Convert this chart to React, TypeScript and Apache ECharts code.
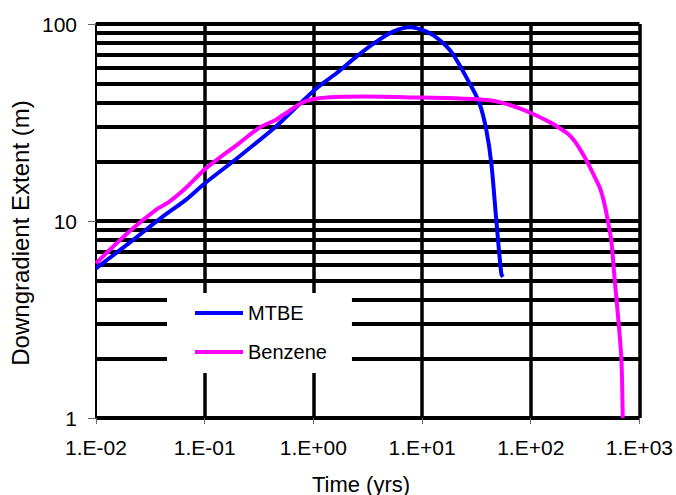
import React, { useEffect, useRef } from "react";
import * as echarts from "echarts";

const mtbeData: [number, number][] = [
  [0.01, 5.75], [0.02, 7.7], [0.04, 10.4], [0.067, 12.8], [0.1, 15.5],
  [0.207, 21.2], [0.45, 30.1], [0.65, 36.5], [1.07, 47.2], [1.63, 56.2],
  [2.49, 68.3], [3.8, 81.3], [5.4, 91.4], [7.7, 96.2], [11, 91.4],
  [14.5, 83], [19, 71], [27.4, 50], [33.8, 39.5], [39, 29],
  [43.4, 19.6], [48.2, 10.1], [53.6, 5.4], [55.4, 5.2],
];

const benzeneData: [number, number][] = [
  [0.01, 6.1], [0.02, 8.8], [0.0356, 11.4], [0.047, 12.5], [0.067, 14.7],
  [0.1026, 18.5], [0.207, 24.8], [0.32, 29.8], [0.45, 32.6], [0.53, 34.6],
  [0.83, 40.4], [1.42, 42.5], [3, 42.8], [10, 42.3], [20, 42.0],
  [39, 41.1], [55, 39.8], [79, 37.3], [110, 34.5], [157, 31.3],
  [184, 29.6], [218, 27.8], [253, 25.5], [293, 22.5], [340, 19.4],
  [386, 16.8], [433, 14.7], [467, 12.8], [498, 10.9], [550, 8.0],
  [589, 5.2], [645, 3.0], [683, 1.97], [702, 1.0],
];

const seriesNames = ["MTBE", "Benzene"];
const xTickLabels = ["1.E-02", "1.E-01", "1.E+00", "1.E+01", "1.E+02", "1.E+03"];
const yTickLabels = ["1", "10", "100"];
const minorGridValues = [2, 3, 4, 5, 6, 7, 8, 9, 20, 30, 40, 50, 60, 70, 80, 90];
const xTitle = "Time (yrs)";
const yTitle = "Downgradient Extent (m)";

const FONT = "'Liberation Sans', Arial, sans-serif";

export default function App() {
  const ref = useRef<HTMLDivElement>(null);
  useEffect(() => {
    if (!ref.current) return;
    const chart = echarts.init(ref.current, undefined, { renderer: "svg" });
    chart.setOption({
      animation: false,
      backgroundColor: "#ffffff",
      grid: { left: 96, right: 36, top: 24, bottom: 77 },
      xAxis: {
        type: "log",
        logBase: 10,
        min: 0.01,
        max: 1000,
        axisLine: { show: false },
        axisTick: { show: true, length: 6, lineStyle: { color: "#666", width: 1 } },
        axisLabel: {
          margin: 19,
          fontSize: 21,
          color: "#000",
          fontFamily: FONT,
          formatter: (v: number) => xTickLabels[Math.round(Math.log10(v)) + 2] ?? "",
        },
        splitLine: {
          show: true,
          showMinLine: false,
          lineStyle: { color: "#000", width: 3.5 },
        },
      },
      yAxis: {
        type: "log",
        logBase: 10,
        min: 1,
        max: 100,
        axisLine: { show: true, lineStyle: { color: "#000", width: 2 } },
        axisTick: { show: true, length: 8, lineStyle: { color: "#666", width: 1 } },
        axisLabel: {
          margin: 19,
          fontSize: 21,
          color: "#000",
          fontFamily: FONT,
          formatter: (v: number) => yTickLabels[Math.round(Math.log10(v))] ?? "",
        },
        splitLine: { show: true, lineStyle: { color: "#000", width: 4 } },
      },
      legend: {
        data: seriesNames,
        orient: "vertical",
        left: 167,
        top: 293,
        z: 10,
        backgroundColor: "#ffffff",
        padding: [10, 25, 11, 28],
        itemWidth: 48,
        itemHeight: 4,
        itemGap: 19,
        icon: "rect",
        textStyle: { fontSize: 20, color: "#000", fontFamily: FONT },
      },
      graphic: [
        {
          type: "text",
          x: 361,
          y: 484,
          style: {
            text: xTitle,
            fontSize: 22,
            fontFamily: FONT,
            fill: "#000",
            align: "center",
            verticalAlign: "middle",
          },
        },
        {
          type: "text",
          x: 20,
          y: 233,
          rotation: Math.PI / 2,
          style: {
            text: yTitle,
            fontSize: 24,
            fontFamily: FONT,
            fill: "#000",
            align: "center",
            verticalAlign: "middle",
          },
        },
      ],
      series: [
        {
          name: "minor-grid",
          type: "line",
          data: [],
          z: 1,
          silent: true,
          markLine: {
            z: 1,
            silent: true,
            symbol: ["none", "none"],
            label: { show: false },
            lineStyle: { color: "#000", width: 4, type: "solid" },
            emphasis: { disabled: true },
            data: minorGridValues.map((v) => ({ yAxis: v })),
          },
        },
        {
          name: seriesNames[0],
          type: "line",
          data: mtbeData,
          z: 3,
          showSymbol: false,
          smooth: 0.3,
          color: "#0000ff",
          lineStyle: { color: "#0000ff", width: 4 },
        },
        {
          name: seriesNames[1],
          type: "line",
          data: benzeneData,
          z: 3,
          showSymbol: false,
          smooth: 0.3,
          color: "#ff00ff",
          lineStyle: { color: "#ff00ff", width: 4 },
        },
      ],
    });
    return () => chart.dispose();
  }, []);
  return (
    <div
      ref={ref}
      style={{ position: "fixed", left: 0, top: 0, width: 676, height: 495 }}
    />
  );
}
